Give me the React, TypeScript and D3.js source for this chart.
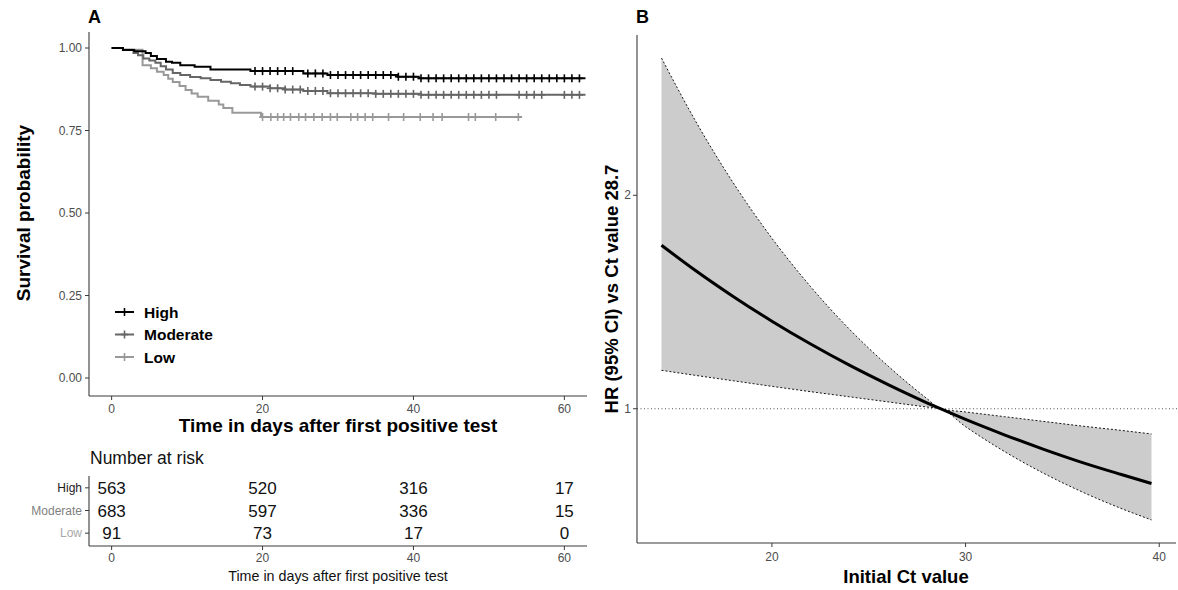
import * as d3 from "d3";

// ---------- Panel A data (Kaplan-Meier) ----------
const groups = ["High", "Moderate", "Low"];
const groupColors = ["#000000", "#666666", "#999999"];
const rowLabelColors = ["#1a1a1a", "#7f7f7f", "#a8a8a8"];

const highTimes = [0, 1.5, 3, 4.5, 5.2, 6, 7.2, 8, 9.1, 11, 13.1, 18.4, 25.4, 28.6, 37.9, 40.7];
const highSurv = [1, 0.994, 0.99, 0.985, 0.976, 0.967, 0.958, 0.955, 0.948, 0.943, 0.935, 0.93, 0.923, 0.918, 0.913, 0.908];
const highEnd = 62.8;
const highCensor = [19, 20, 21, 22, 23, 24, 26, 27, 28, 29, 30, 31, 32, 33, 34, 35, 36, 37, 38, 39, 40, 41, 42, 43, 44, 45, 46, 47, 48, 49, 50, 51, 52, 53, 54, 55, 56, 57, 58, 59, 60, 61, 62];

const modTimes = [0, 1.5, 2.9, 3.5, 4.2, 5, 5.8, 6.5, 7.2, 8.1, 9.1, 10.4, 11.8, 13.1, 14.5, 15.8, 17, 18.4, 21, 23, 25.4, 28.6, 35, 41];
const modSurv = [1, 0.995, 0.985, 0.978, 0.968, 0.962, 0.955, 0.945, 0.935, 0.924, 0.918, 0.912, 0.908, 0.903, 0.898, 0.893, 0.888, 0.883, 0.878, 0.874, 0.87, 0.863, 0.861, 0.858];
const modEnd = 62.8;
const modCensor = [19, 20, 21, 22, 23, 24, 25, 26, 27, 28, 29, 30, 31, 32, 33, 34, 35, 36, 37, 38, 39, 40, 41, 42, 43, 44, 45, 46, 47, 48, 49, 50, 51, 54, 55, 56, 57, 60, 61, 62];

const lowTimes = [0, 1.5, 4.1, 5.2, 6, 6.9, 7.5, 8.1, 9, 9.8, 10.6, 11.4, 12.8, 14.2, 14.8, 16, 19.8];
const lowSurv = [1, 0.995, 0.948, 0.939, 0.928, 0.918, 0.907, 0.897, 0.885, 0.873, 0.862, 0.852, 0.84, 0.829, 0.818, 0.804, 0.791];
const lowEnd = 54.4;
const lowCensor = [20, 21.1, 22, 22.8, 23.7, 24.8, 25.7, 26.8, 27.9, 29, 29.9, 31.7, 32.6, 33.6, 34.6, 36.7, 38.7, 40.9, 42.6, 43.8, 47.3, 48.2, 50.9, 53.9];

const survTicks = [0, 0.25, 0.5, 0.75, 1];
const timeTicks = [0, 20, 40, 60];

const riskTimes = [0, 20, 40, 60];
const riskHigh = [563, 520, 316, 17];
const riskModerate = [683, 597, 336, 15];
const riskLow = [91, 73, 17, 0];

// ---------- Panel B data (HR curve) ----------
const ctValues = [14.3, 16, 18, 20, 22, 24, 26, 28, 28.7, 30, 32, 34, 36, 38, 39.6];
const hrValues = [1.766, 1.651, 1.526, 1.41, 1.303, 1.204, 1.113, 1.028, 1, 0.95, 0.878, 0.811, 0.749, 0.693, 0.65];
const hrLower = [1.18, 1.157, 1.131, 1.105, 1.08, 1.056, 1.032, 1.008, 1, 0.916, 0.8, 0.699, 0.611, 0.534, 0.479];
const hrUpper = [2.643, 2.357, 2.059, 1.799, 1.572, 1.373, 1.2, 1.048, 1, 0.985, 0.963, 0.941, 0.919, 0.899, 0.882];
const ctTicks = [20, 30, 40];
const hrTicks = [1, 2];

const FONT = "'Liberation Sans', Arial, Helvetica, sans-serif";
const TICK = "#4d4d4d";
const AXIS = "#3a3a3a";

const curves = [
  { times: highTimes, surv: highSurv, end: highEnd, censor: highCensor },
  { times: modTimes, surv: modSurv, end: modEnd, censor: modCensor },
  { times: lowTimes, surv: lowSurv, end: lowEnd, censor: lowCensor },
];
const riskRows = [riskHigh, riskModerate, riskLow];

function survAt(times: number[], surv: number[], t: number) {
  let s = surv[0];
  for (let i = 0; i < times.length; i++) if (times[i] <= t) s = surv[i];
  return s;
}

function Plus({ x, y, color, size = 4 }: { x: number; y: number; color: string; size?: number }) {
  return (
    <g stroke={color} strokeWidth={1.6}>
      <line x1={x - size + 0.5} x2={x + size - 0.5} y1={y} y2={y} />
      <line x1={x} x2={x} y1={y - size} y2={y + size} />
    </g>
  );
}

export default function App() {
  // Panel A scales
  const xA = d3.scaleLinear().domain([-3, 63]).range([89, 587]);
  const yA = d3.scaleLinear().domain([0, 1]).range([378, 48]);
  const aTop = 32;
  const aBottom = 396;

  const stepLine = d3
    .line<[number, number]>()
    .x((d) => xA(d[0]))
    .y((d) => yA(d[1]))
    .curve(d3.curveStepAfter);

  // risk table
  const rowY = d3.scaleBand<string>().domain(groups).range([477, 545]).paddingInner(0).paddingOuter(0);
  const tBottom = 546;

  // Panel B scales
  const xB = d3.scaleLinear().domain([13.035, 40.865]).range([637, 1176]);
  const yB = d3.scaleLinear().domain([0.371, 2.751]).range([543, 35]);
  const hrLine = d3
    .line<number>()
    .x((_, i) => xB(ctValues[i]))
    .y((d) => yB(d))
    .curve(d3.curveMonotoneX);
  const band = d3
    .area<number>()
    .x((_, i) => xB(ctValues[i]))
    .y0((_, i) => yB(hrLower[i]))
    .y1((d) => yB(d))
    .curve(d3.curveMonotoneX);

  return (
    <svg
      width={1178}
      height={590}
      style={{ position: "absolute", left: 0, top: 0, background: "#fff" }}
      fontFamily={FONT}
    >
      <rect width={1178} height={590} fill="#fff" />
      {/* ================= Panel A ================= */}
      <text x={88} y={23} fontSize={18} fontWeight="bold">A</text>

      <defs>
        <clipPath id="clipA">
          <rect x={89} y={aTop - 10} width={500} height={aBottom - aTop + 10} />
        </clipPath>
      </defs>
      <g clipPath="url(#clipA)">
        {curves
          .map((c, gi) => ({ c, gi }))
          .reverse()
          .map(({ c, gi }) => {
            const pts: [number, number][] = c.times.map((t, i) => [t, c.surv[i]]);
            pts.push([c.end, c.surv[c.surv.length - 1]]);
            return (
              <g key={gi}>
                <path d={stepLine(pts) || ""} fill="none" stroke={groupColors[gi]} strokeWidth={2} />
                {c.censor.map((t, i) => (
                  <Plus key={i} x={xA(t)} y={yA(survAt(c.times, c.surv, t))} color={groupColors[gi]} />
                ))}
              </g>
            );
          })}
      </g>

      {/* axes */}
      <line x1={89} x2={89} y1={aTop} y2={aBottom} stroke={AXIS} strokeWidth={1.1} />
      <line x1={89} x2={587} y1={aBottom} y2={aBottom} stroke={AXIS} strokeWidth={1.1} />
      {survTicks.map((v) => (
        <g key={v}>
          <line x1={85} x2={89} y1={yA(v)} y2={yA(v)} stroke={AXIS} strokeWidth={1} />
          <text x={82} y={yA(v) + 4.2} fontSize={12} fill={TICK} textAnchor="end">
            {v.toFixed(2)}
          </text>
        </g>
      ))}
      {timeTicks.map((v) => (
        <g key={v}>
          <line x1={xA(v)} x2={xA(v)} y1={aBottom} y2={aBottom + 4} stroke={AXIS} strokeWidth={1} />
          <text x={xA(v)} y={aBottom + 17} fontSize={12} fill={TICK} textAnchor="middle">
            {v}
          </text>
        </g>
      ))}
      <text x={338} y={432} fontSize={19} fontWeight="bold" textAnchor="middle">
        Time in days after first positive test
      </text>
      <text
        transform={`translate(30, ${(aTop + aBottom) / 2 - 1}) rotate(-90)`}
        fontSize={19}
        fontWeight="bold"
        textAnchor="middle"
      >
        Survival probability
      </text>

      {/* legend */}
      {groups.map((g, i) => {
        const ly = 312 + i * 22.5;
        return (
          <g key={g}>
            <line x1={115} x2={134} y1={ly} y2={ly} stroke={groupColors[i]} strokeWidth={2} />
            <Plus x={124.5} y={ly} color={groupColors[i]} />
            <text x={144} y={ly + 5.5} fontSize={15.5} fontWeight="bold" fill="#000">
              {g}
            </text>
          </g>
        );
      })}

      {/* risk table */}
      <text x={90} y={464} fontSize={17.5} fill="#111">Number at risk</text>
      <line x1={89} x2={89} y1={476} y2={tBottom} stroke={AXIS} strokeWidth={1.1} />
      <line x1={89} x2={587} y1={tBottom} y2={tBottom} stroke={AXIS} strokeWidth={1.1} />
      {groups.map((g, gi) => {
        const cy = (rowY(g) as number) + rowY.bandwidth() / 2 - 0.5;
        return (
          <g key={g}>
            <line x1={85} x2={89} y1={cy} y2={cy} stroke={AXIS} strokeWidth={1} />
            <text x={82} y={cy + 4.2} fontSize={12} fill={rowLabelColors[gi]} textAnchor="end">
              {g}
            </text>
            {riskRows[gi].map((n, i) => (
              <text key={i} x={xA(riskTimes[i])} y={cy + 6} fontSize={17} textAnchor="middle" fill="#111">
                {n}
              </text>
            ))}
          </g>
        );
      })}
      {timeTicks.map((v) => (
        <g key={v}>
          <line x1={xA(v)} x2={xA(v)} y1={tBottom} y2={tBottom + 4} stroke={AXIS} strokeWidth={1} />
          <text x={xA(v)} y={tBottom + 16} fontSize={12} fill={TICK} textAnchor="middle">
            {v}
          </text>
        </g>
      ))}
      <text x={338} y={581} fontSize={14.3} textAnchor="middle" fill="#111">
        Time in days after first positive test
      </text>

      {/* ================= Panel B ================= */}
      <text x={636} y={23} fontSize={18} fontWeight="bold">B</text>
      <path d={band(hrUpper) || ""} fill="#cccccc" stroke="none" />
      <path
        d={d3.line<number>().x((_, i) => xB(ctValues[i])).y((d) => yB(d)).curve(d3.curveMonotoneX)(hrUpper) || ""}
        fill="none"
        stroke="#000"
        strokeWidth={0.9}
        strokeDasharray="2,2"
      />
      <path
        d={d3.line<number>().x((_, i) => xB(ctValues[i])).y((d) => yB(d)).curve(d3.curveMonotoneX)(hrLower) || ""}
        fill="none"
        stroke="#000"
        strokeWidth={0.9}
        strokeDasharray="2,2"
      />
      <line x1={637} x2={1178} y1={yB(1)} y2={yB(1)} stroke="#555" strokeWidth={1} strokeDasharray="1,2.5" />
      <path d={hrLine(hrValues) || ""} fill="none" stroke="#000" strokeWidth={3} />

      <line x1={637} x2={637} y1={35} y2={543} stroke={AXIS} strokeWidth={1.1} />
      <line x1={637} x2={1176} y1={543} y2={543} stroke={AXIS} strokeWidth={1.1} />
      {hrTicks.map((v) => (
        <g key={v}>
          <line x1={633} x2={637} y1={yB(v)} y2={yB(v)} stroke={AXIS} strokeWidth={1} />
          <text x={631} y={yB(v) + 4.2} fontSize={12} fill={TICK} textAnchor="end">
            {v}
          </text>
        </g>
      ))}
      {ctTicks.map((v) => (
        <g key={v}>
          <line x1={xB(v)} x2={xB(v)} y1={543} y2={547} stroke={AXIS} strokeWidth={1} />
          <text x={xB(v)} y={561} fontSize={12} fill={TICK} textAnchor="middle">
            {v}
          </text>
        </g>
      ))}
      <text x={906} y={583} fontSize={18.5} fontWeight="bold" textAnchor="middle">
        Initial Ct value
      </text>
      <text
        transform={`translate(618, 289) rotate(-90)`}
        fontSize={18.5}
        fontWeight="bold"
        textAnchor="middle"
      >
        HR (95% CI) vs Ct value 28.7
      </text>
    </svg>
  );
}
